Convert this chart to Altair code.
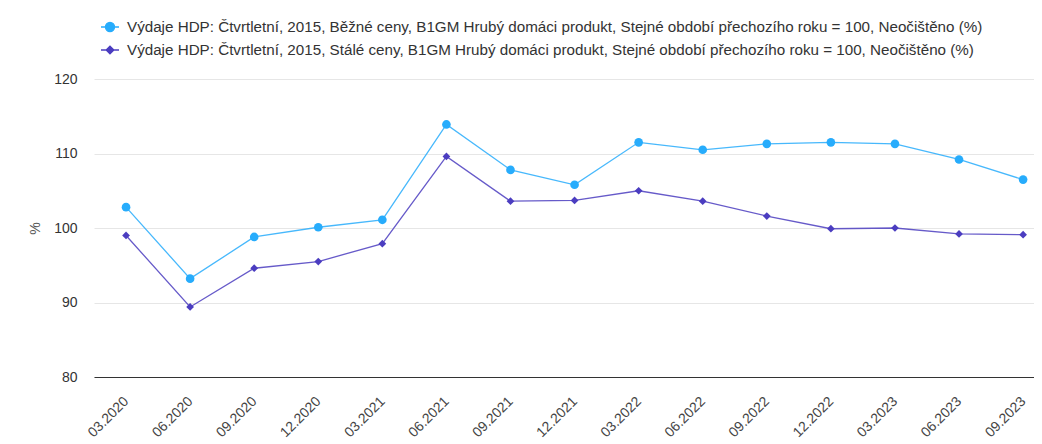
import altair as alt
import pandas as pd

periods = ["03.2020", "06.2020", "09.2020", "12.2020", "03.2021", "06.2021", "09.2021",
           "12.2021", "03.2022", "06.2022", "09.2022", "12.2022", "03.2023", "06.2023", "09.2023"]
bezne = [102.8, 93.2, 98.8, 100.1, 101.1, 113.9, 107.8, 105.8, 111.5, 110.5, 111.3, 111.5, 111.3, 109.2, 106.5]
stale = [99.0, 89.4, 94.6, 95.5, 97.9, 109.6, 103.6, 103.7, 105.0, 103.6, 101.6, 99.9, 100.0, 99.2, 99.1]
series = [
    "Výdaje HDP: Čtvrtletní, 2015, Běžné ceny, B1GM Hrubý domáci produkt, Stejné období přechozího roku = 100, Neočištěno (%)",
    "Výdaje HDP: Čtvrtletní, 2015, Stálé ceny, B1GM Hrubý domáci produkt, Stejné období přechozího roku = 100, Neočištěno (%)",
]
colors = ["#27acfc", "#4b3dc0"]
y_ticks = [80, 90, 100, 110, 120]

rows = []
for i, (p, v) in enumerate(zip(periods, bezne)):
    rows.append({"idx": i, "period": p, "value": v, "series": series[0]})
for i, (p, v) in enumerate(zip(periods, stale)):
    rows.append({"idx": i, "period": p, "value": v, "series": series[1]})
df = pd.DataFrame(rows)

FONT = "Liberation Sans"
label_expr = "[" + ",".join("'" + p + "'" for p in periods) + "][datum.value]"

x = alt.X("idx:Q", title=None,
          scale=alt.Scale(domain=[-0.5, 14.17], nice=False, zero=False),
          axis=alt.Axis(values=list(range(len(periods))), labelExpr=label_expr,
                        labelAngle=-45, labelAlign="right", labelBaseline="middle",
                        labelPadding=22, ticks=False, grid=False, domainColor="#333333",
                        domainWidth=1, labelFont=FONT, labelFontSize=14, labelColor="#444444",
                        labelOverlap=False, labelBound=False, labelFlush=False))
y = alt.Y("value:Q", title="%",
          scale=alt.Scale(domain=[80, 120], nice=False, zero=False),
          axis=alt.Axis(values=y_ticks, ticks=False, domain=False, grid=True,
                        gridColor="#e6e6e6", gridWidth=1, labelPadding=17,
                        labelFont=FONT, labelFontSize=14, labelColor="#333333",
                        titleFont=FONT, titleFontSize=14, titleFontWeight="normal",
                        titleColor="#555555", titlePadding=11))

color_scale = alt.Scale(domain=series, range=colors)

base = alt.Chart(df)

lines = base.mark_line(strokeWidth=1.3, opacity=0.85).encode(
    x=x, y=y, color=alt.Color("series:N", scale=color_scale, legend=None))

circles = base.transform_filter(alt.datum.series == series[0]).mark_point(
    filled=True, opacity=1, shape="circle", size=75).encode(
    x=x, y=y, color=alt.Color("series:N", scale=color_scale, legend=None))

diamonds = base.transform_filter(alt.datum.series == series[1]).mark_point(
    filled=True, opacity=1, shape="diamond", size=60).encode(
    x=x, y=y, color=alt.Color("series:N", scale=color_scale, legend=None))

leg = alt.Legend(title=None, orient="none", legendX=6, legendY=-62, padding=0,
                 symbolSize=324, symbolStrokeWidth=1.4, symbolOpacity=1,
                 labelFont=FONT, labelFontSize=15.2, labelColor="#333333", labelLimit=0,
                 labelOffset=7, rowPadding=4)

legend_paths = [
    "M-1,0L1,0M0.5,0A0.5,0.5,0,1,1,-0.5,0A0.5,0.5,0,1,1,0.5,0Z",
    "M-1,0L1,0M0,-0.42L0.42,0L0,0.42L-0.42,0Z",
]

legend_layer = base.mark_point(filled=True, opacity=0, size=1).encode(
    x=x, y=y,
    fill=alt.Fill("series:N", scale=color_scale, legend=leg),
    stroke=alt.Stroke("series:N", scale=color_scale, legend=leg),
    shape=alt.Shape("series:N", scale=alt.Scale(domain=series, range=legend_paths), legend=leg))

chart = alt.layer(lines, circles, diamonds, legend_layer).resolve_legend(
    fill="independent", stroke="independent", shape="independent"
).properties(
    width=940, height=298,
    autosize=alt.AutoSizeParams(type="none"),
    padding={"left": 86, "top": 71, "right": 0, "bottom": 65},
    background="white",
).configure_view(stroke=None)

chart.save("out.html", embed_options={"renderer": "svg", "actions": False})
